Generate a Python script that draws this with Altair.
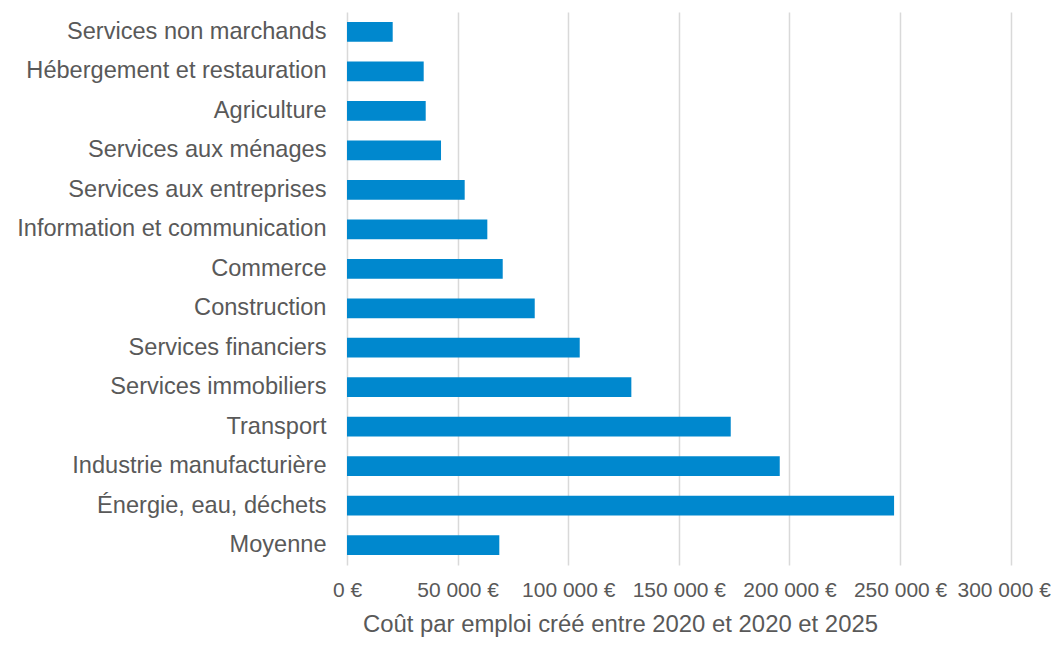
import altair as alt
import pandas as pd

categories = [
    "Services non marchands",
    "Hébergement et restauration",
    "Agriculture",
    "Services aux ménages",
    "Services aux entreprises",
    "Information et communication",
    "Commerce",
    "Construction",
    "Services financiers",
    "Services immobiliers",
    "Transport",
    "Industrie manufacturière",
    "Énergie, eau, déchets",
    "Moyenne",
]
values = [20660, 34670, 35580, 42500, 53200, 63430, 70390, 84860,
          105200, 128530, 173460, 195610, 247290, 68850]
tick_values = [0, 50000, 100000, 150000, 200000, 250000, 300000]
x_title = "Coût par emploi créé entre 2020 et 2020 et 2025"

df = pd.DataFrame({"secteur": categories, "cout": values})

label_expr = "replace(format(datum.value, ',.0f'), ',', ' ') + ' €'"

chart = (
    alt.Chart(df)
    .mark_bar(color="#0088CE")
    .encode(
        y=alt.Y(
            "secteur:N",
            sort=categories,
            title=None,
            scale=alt.Scale(paddingInner=0.5, paddingOuter=0.25),
            axis=alt.Axis(
                domain=False,
                ticks=False,
                grid=False,
                labelFont="Liberation Sans",
                labelFontSize=23.6,
                labelColor="#595959",
                labelPadding=21,
                labelLimit=400,
            ),
        ),
        x=alt.X(
            "cout:Q",
            title=x_title,
            scale=alt.Scale(domain=[0, 300000], nice=False),
            axis=alt.Axis(
                values=tick_values,
                labelExpr=label_expr,
                domain=False,
                ticks=False,
                grid=True,
                gridColor="#D9D9D9",
                gridWidth=1.5,
                labelFont="Liberation Sans",
                labelFontSize=21,
                labelColor="#595959",
                labelPadding=15,
                labelFlush=False,
                labelOffset={"condition": {"test": "datum.value == 300000", "value": -7}, "value": 0},
                titleFont="Liberation Sans",
                titleFontSize=23.9,
                titleFontWeight="normal",
                titleColor="#595959",
                titleX=273,
                titleY=67,
                titleAlign="center",
                titleBaseline="alphabetic",
            ),
        ),
    )
    .properties(
        width=663.7,
        height=553,
        autosize=alt.AutoSizeParams(type="none"),
        padding={"left": 339, "top": 4, "right": 40, "bottom": 77},
    )
    .configure_view(stroke=None)
)

chart.save("out.html", embed_options={"renderer": "svg", "actions": False})
